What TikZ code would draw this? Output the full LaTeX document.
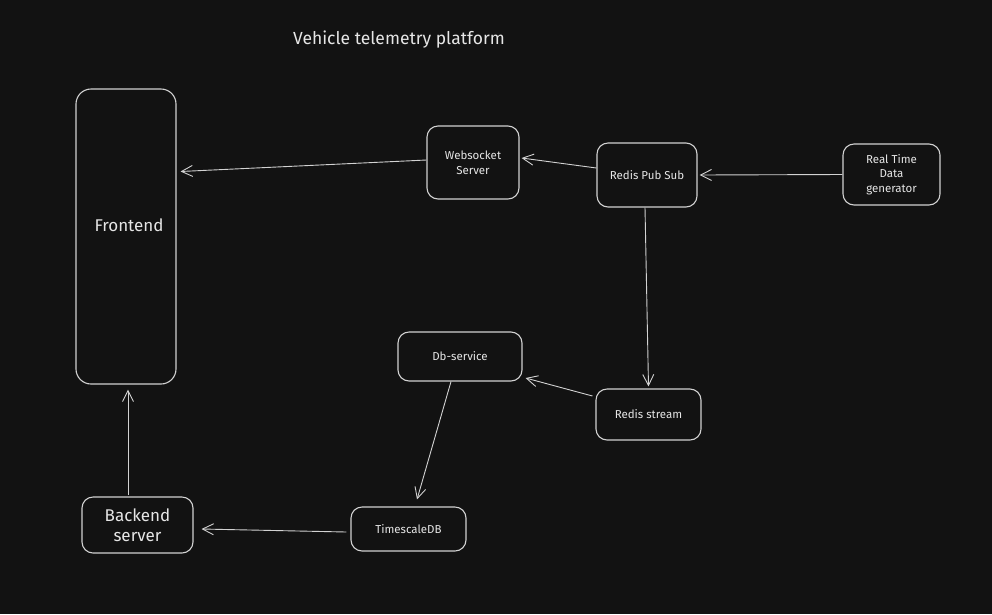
\documentclass[tikz,border=0pt]{standalone}
\usepackage{fontspec}
\setmainfont{Fira Sans}
\usetikzlibrary{arrows.meta}
\definecolor{bg}{HTML}{121212}
\definecolor{ink}{HTML}{D2D2D2}
\definecolor{txt}{HTML}{E6E6E6}
\tikzset{
  box/.style={draw=ink, line width=1.1pt, rounded corners=11pt, fill=bg, text=txt, align=center, inner sep=0pt, font=\fontsize{11.5}{14.5}\selectfont},
  bigbox/.style={box, font=\fontsize{17}{20}\selectfont},
  conn/.style={draw=ink, line width=0.9pt, -{Straight Barb[length=11pt,width=11pt,line width=0.9pt]}},
}
\begin{document}
\begin{tikzpicture}[x=1pt,y=-1pt]
\fill[bg] (0,0) rectangle (992,614);
\useasboundingbox (0,0) rectangle (992,614);
\node[text=txt, font=\fontsize{17.5}{20}\selectfont] (title) at (399,40) {Vehicle telemetry platform};
\node[box, minimum width=100pt, minimum height=295pt, rounded corners=15pt] (fe) at (126,236.5) {};
\node[text=txt, font=\fontsize{17}{20}\selectfont, inner sep=0pt] (felabel) at (129,225) {Frontend};
\node[box, minimum width=92pt, minimum height=73pt] (ws) at (473,162.5) {Websocket\\Server};
\node[box, minimum width=100pt, minimum height=64pt] (ps) at (647,175) {Redis Pub Sub};
\node[box, minimum width=97pt, minimum height=61pt] (rt) at (891.5,174.5) {Real Time\\Data\\generator};
\node[box, minimum width=124pt, minimum height=49pt] (db) at (460,356.5) {Db-service};
\node[box, minimum width=105pt, minimum height=51pt] (rs) at (648.5,414.5) {Redis stream};
\node[box, minimum width=115pt, minimum height=44pt] (ts) at (408.5,529) {TimescaleDB};
\node[bigbox, minimum width=111pt, minimum height=56pt] (be) at (137.5,525) {Backend\\server};
\draw[conn] ([yshift=2.5pt]ws.west) -- ([xshift=4pt,yshift=65pt]fe.east);
\draw[conn] ([yshift=7pt]ps.west) -- ([xshift=2pt,yshift=4.5pt]ws.east);
\draw[conn] (rt.west) -- ([xshift=2pt]ps.east);
\draw[conn] ([xshift=-2pt]ps.south) -- ([yshift=2pt]rs.north);
\draw[conn] ([xshift=-3pt,yshift=18.5pt]rs.west) -- ([xshift=3pt,yshift=-21.5pt]db.east);
\draw[conn] ([xshift=-9pt]db.south) -- ([xshift=8.5pt,yshift=7pt]ts.north);
\draw[conn] ([xshift=-4pt,yshift=-3pt]ts.west) -- ([xshift=8pt,yshift=-4pt]be.east);
\draw[conn] ([xshift=-9.5pt,yshift=1pt]be.north) -- ([xshift=2pt,yshift=-5pt]fe.south);
\end{tikzpicture}
\end{document}
